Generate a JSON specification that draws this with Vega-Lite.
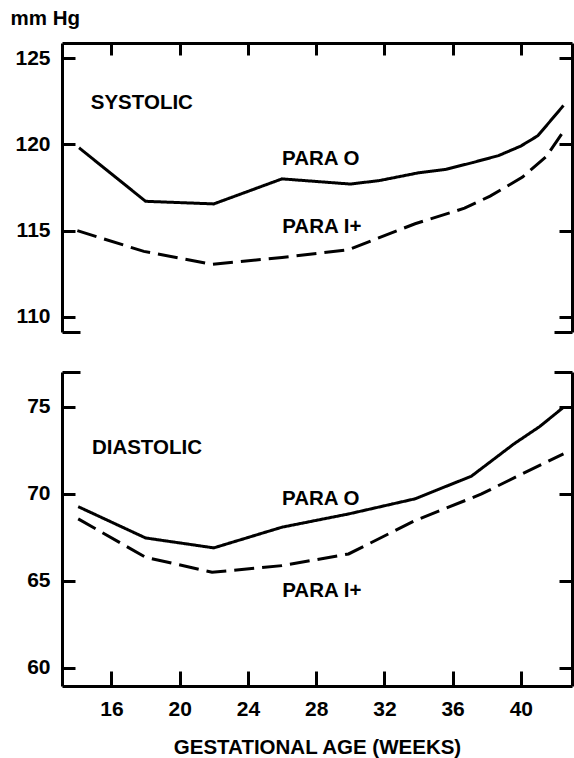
{
  "$schema": "https://vega.github.io/schema/vega-lite/v6.json",
  "padding": {"left": 10, "top": 8, "right": 0, "bottom": 0},
  "spacing": 36,
  "config": {
    "view": {"stroke": null},
    "font": "Liberation Sans",
    "axis": {
      "domainColor": "black", "domainWidth": 3, "tickColor": "black", "tickWidth": 3,
      "labelFont": "Liberation Sans", "labelFontWeight": "bold", "labelFontSize": 21, "labelColor": "black",
      "titleFont": "Liberation Sans", "titleFontWeight": "bold", "titleFontSize": 20.5, "titleColor": "black",
      "grid": false
    }
  },
  "datasets": {
    "sys": [
      {"week": 14.1, "mmHg": 119.8, "parity": "PARA O"},
      {"week": 18, "mmHg": 116.7, "parity": "PARA O"},
      {"week": 22, "mmHg": 116.55, "parity": "PARA O"},
      {"week": 26, "mmHg": 118.0, "parity": "PARA O"},
      {"week": 30, "mmHg": 117.7, "parity": "PARA O"},
      {"week": 31.7, "mmHg": 117.9, "parity": "PARA O"},
      {"week": 34, "mmHg": 118.35, "parity": "PARA O"},
      {"week": 35.6, "mmHg": 118.55, "parity": "PARA O"},
      {"week": 37.2, "mmHg": 118.95, "parity": "PARA O"},
      {"week": 38.7, "mmHg": 119.35, "parity": "PARA O"},
      {"week": 40, "mmHg": 119.9, "parity": "PARA O"},
      {"week": 41, "mmHg": 120.5, "parity": "PARA O"},
      {"week": 42.5, "mmHg": 122.25, "parity": "PARA O"},
      {"week": 14, "mmHg": 115.0, "parity": "PARA I+"},
      {"week": 17.9, "mmHg": 113.8, "parity": "PARA I+"},
      {"week": 21.9, "mmHg": 113.05, "parity": "PARA I+"},
      {"week": 26, "mmHg": 113.45, "parity": "PARA I+"},
      {"week": 29.9, "mmHg": 113.9, "parity": "PARA I+"},
      {"week": 33.8, "mmHg": 115.4, "parity": "PARA I+"},
      {"week": 36.7, "mmHg": 116.3, "parity": "PARA I+"},
      {"week": 38.2, "mmHg": 117.0, "parity": "PARA I+"},
      {"week": 40.1, "mmHg": 118.1, "parity": "PARA I+"},
      {"week": 41.5, "mmHg": 119.3, "parity": "PARA I+"},
      {"week": 42.5, "mmHg": 120.75, "parity": "PARA I+"}
    ],
    "dia": [
      {"week": 14.05, "mmHg": 69.25, "parity": "PARA O"},
      {"week": 18, "mmHg": 67.45, "parity": "PARA O"},
      {"week": 22, "mmHg": 66.88, "parity": "PARA O"},
      {"week": 26, "mmHg": 68.07, "parity": "PARA O"},
      {"week": 29.9, "mmHg": 68.83, "parity": "PARA O"},
      {"week": 33.8, "mmHg": 69.7, "parity": "PARA O"},
      {"week": 37.1, "mmHg": 71.0, "parity": "PARA O"},
      {"week": 39.6, "mmHg": 72.86, "parity": "PARA O"},
      {"week": 41.1, "mmHg": 73.85, "parity": "PARA O"},
      {"week": 42.5, "mmHg": 74.96, "parity": "PARA O"},
      {"week": 14.05, "mmHg": 68.55, "parity": "PARA I+"},
      {"week": 18, "mmHg": 66.34, "parity": "PARA I+"},
      {"week": 21.9, "mmHg": 65.48, "parity": "PARA I+"},
      {"week": 26, "mmHg": 65.86, "parity": "PARA I+"},
      {"week": 29.9, "mmHg": 66.53, "parity": "PARA I+"},
      {"week": 33.8, "mmHg": 68.45, "parity": "PARA I+"},
      {"week": 37.7, "mmHg": 69.98, "parity": "PARA I+"},
      {"week": 40, "mmHg": 71.1, "parity": "PARA I+"},
      {"week": 42.5, "mmHg": 72.28, "parity": "PARA I+"}
    ],
    "sysText": [
      {"week": 17.78, "mmHg": 122.4, "label": "SYSTOLIC"},
      {"week": 28.27, "mmHg": 119.15, "label": "PARA O"},
      {"week": 28.33, "mmHg": 115.2, "label": "PARA I+"}
    ],
    "diaText": [
      {"week": 18.08, "mmHg": 72.63, "label": "DIASTOLIC"},
      {"week": 28.27, "mmHg": 69.7, "label": "PARA O"},
      {"week": 28.33, "mmHg": 64.41, "label": "PARA I+"}
    ]
  },
  "vconcat": [
    {
      "width": 510,
      "height": 289,
      "encoding": {
        "x": {
          "field": "week", "type": "quantitative",
          "scale": {"domain": [13.1, 43.0], "nice": false, "zero": false},
          "axis": {"orient": "top", "values": [16, 20, 24, 28, 32, 36, 40], "labels": false, "title": null, "tickSize": -12}
        }
      },
      "layer": [
        {
          "data": {"name": "sys"},
          "mark": {"type": "line", "color": "black", "strokeWidth": 3},
          "encoding": {
            "y": {
              "field": "mmHg", "type": "quantitative",
              "scale": {"domain": [109.13, 125.87], "nice": false, "zero": false},
              "axis": {
                "orient": "left", "values": [109.13, 110, 115, 120, 125],
                "labelExpr": "datum.value < 109.5 ? '' : datum.label",
                "tickSize": {"condition": {"test": "datum.value < 109.5", "value": -18}, "value": -13},
                "labelPadding": 25,
                "title": "mm Hg", "titleAngle": 0, "titleAlign": "left", "titleBaseline": "middle",
                "titleX": -52, "titleY": -25
              }
            },
            "strokeDash": {
              "field": "parity", "type": "nominal",
              "scale": {"domain": ["PARA O", "PARA I+"], "range": [[1, 0], [20, 8]]},
              "legend": null
            }
          }
        },
        {
          "data": {"name": "sys"},
          "mark": {"type": "line", "opacity": 0},
          "encoding": {
            "y": {
              "field": "mmHg", "type": "quantitative",
              "scale": {"domain": [109.13, 125.87], "nice": false, "zero": false},
              "axis": {
                "orient": "right", "values": [109.13, 110, 115, 120, 125], "labels": false, "title": null,
                "tickSize": {"condition": {"test": "datum.value < 109.5", "value": -18}, "value": -13}
              }
            },
            "detail": {"field": "parity", "type": "nominal"}
          }
        },
        {
          "data": {"name": "sysText"},
          "mark": {"type": "text", "fontSize": 20.5, "fontWeight": "bold", "font": "Liberation Sans", "color": "black"},
          "encoding": {
            "y": {"field": "mmHg", "type": "quantitative", "scale": {"domain": [109.13, 125.87], "nice": false, "zero": false}, "axis": null},
            "text": {"field": "label", "type": "nominal"}
          }
        }
      ],
      "resolve": {"axis": {"y": "independent"}}
    },
    {
      "width": 510,
      "height": 314,
      "encoding": {
        "x": {
          "field": "week", "type": "quantitative",
          "scale": {"domain": [13.1, 43.0], "nice": false, "zero": false},
          "axis": {
            "orient": "bottom", "values": [16, 20, 24, 28, 32, 36, 40], "tickSize": -15,
            "labelPadding": 27, "title": "GESTATIONAL AGE (WEEKS)", "titlePadding": 18
          }
        }
      },
      "layer": [
        {
          "data": {"name": "dia"},
          "mark": {"type": "line", "color": "black", "strokeWidth": 3},
          "encoding": {
            "y": {
              "field": "mmHg", "type": "quantitative",
              "scale": {"domain": [58.94, 76.99], "nice": false, "zero": false},
              "axis": {
                "orient": "left", "values": [60, 65, 70, 75, 76.99],
                "labelExpr": "datum.value > 76 ? '' : datum.label",
                "tickSize": {"condition": {"test": "datum.value > 76", "value": -18}, "value": -13},
                "labelPadding": 25, "title": null
              }
            },
            "strokeDash": {
              "field": "parity", "type": "nominal",
              "scale": {"domain": ["PARA O", "PARA I+"], "range": [[1, 0], [22, 9]]},
              "legend": null
            }
          }
        },
        {
          "data": {"name": "dia"},
          "mark": {"type": "line", "opacity": 0},
          "encoding": {
            "y": {
              "field": "mmHg", "type": "quantitative",
              "scale": {"domain": [58.94, 76.99], "nice": false, "zero": false},
              "axis": {
                "orient": "right", "values": [60, 65, 70, 75, 76.99], "labels": false, "title": null,
                "tickSize": {"condition": {"test": "datum.value > 76", "value": -18}, "value": -13}
              }
            },
            "detail": {"field": "parity", "type": "nominal"}
          }
        },
        {
          "data": {"name": "diaText"},
          "mark": {"type": "text", "fontSize": 20.5, "fontWeight": "bold", "font": "Liberation Sans", "color": "black"},
          "encoding": {
            "y": {"field": "mmHg", "type": "quantitative", "scale": {"domain": [58.94, 76.99], "nice": false, "zero": false}, "axis": null},
            "text": {"field": "label", "type": "nominal"}
          }
        }
      ],
      "resolve": {"axis": {"y": "independent"}}
    }
  ]
}
